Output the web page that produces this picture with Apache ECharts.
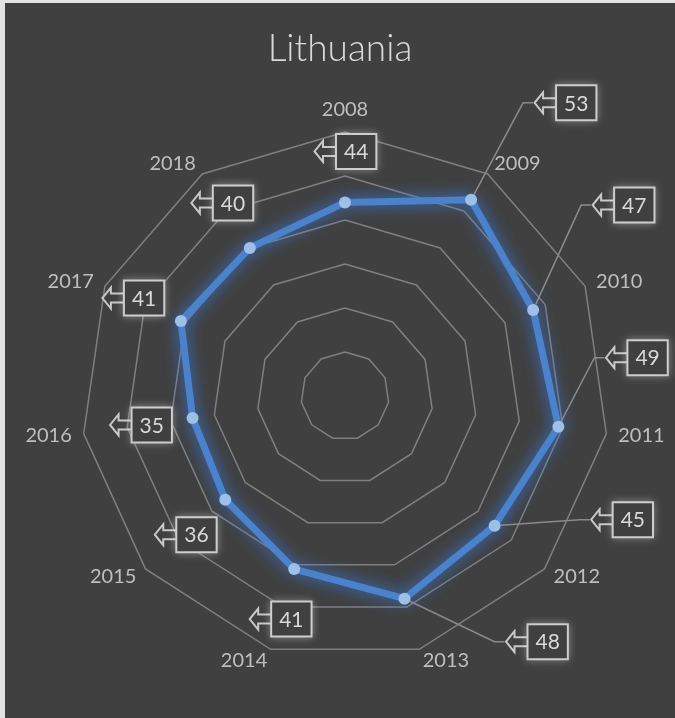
<!DOCTYPE html>
<html>
<head>
<meta charset="utf-8">
<script src="https://cdn.jsdelivr.net/npm/echarts@6/dist/echarts.min.js"></script>
<style>
  html, body { margin: 0; padding: 0; background: #e3e3e3; }
  #chart { position: absolute; left: 5px; top: 3px; width: 670px; height: 715px; background: #404040; }
</style>
</head>
<body>
<div id="chart"></div>
<script>
// years round the radar, clockwise from the top
const categories = ['2008', '2009', '2010', '2011', '2012', '2013', '2014', '2015', '2016', '2017', '2018'];
const values = [44, 53, 47, 49, 45, 48, 41, 36, 35, 41, 40];
const axisMax = 60;
const ringCount = 6;

// where each callout sits relative to its point (arrow tip), and which ones get a leader line
const labelOffsets = [[-32, -51], [62, -97], [58, -105], [46, -69], [95, -6], [100, 43], [-46, 50], [-72, 35], [-84, 7], [-80, -23], [-60, -45]];
const withLeader = [false, true, true, true, true, true, false, false, false, false, false];

const center = [340, 393];
const radius = 264;

// left-pointing outline arrow of the callout shape
const arrowImg = new Image();
arrowImg.src = 'data:image/svg+xml;utf8,' + encodeURIComponent(
  '<svg xmlns="http://www.w3.org/2000/svg" width="24" height="26" viewBox="0 0 24 26">' +
  '<path d="M24 8.5 H10 V2.5 L1.5 13 L10 23.5 V17.5 H24" fill="none" stroke="#c8c8c8" stroke-width="2" stroke-linejoin="miter"/>' +
  '</svg>');

// echarts radar runs counter-clockwise, so flip order after the first
const indicators = [categories[0]].concat(categories.slice(1).reverse()).map(name => ({ name, min: 0, max: axisMax }));

const lineData = values.map((v, i) => ({
  value: [v, i],
  labelLine: { show: withLeader[i] }
}));
// close the polygon back at the first year
lineData.push({ value: [values[0], categories.length], symbol: 'none', label: { show: false }, labelLine: { show: false } });

function draw() {
  const chart = echarts.init(document.getElementById('chart'));
  const option = {
    backgroundColor: '#404040',
    animation: false,
    title: {
      text: 'Lithuania',
      left: 'center',
      top: 23,
      textStyle: { color: '#d9d9d9', fontSize: 37, fontWeight: 300, fontFamily: 'Lato' }
    },
    radar: {
      center: center,
      radius: radius,
      startAngle: 90,
      splitNumber: ringCount,
      shape: 'polygon',
      indicator: indicators,
      nameGap: 12,
      axisName: { color: '#bfbfbf', fontSize: 20, fontFamily: 'Lato' },
      axisLine: { show: false },
      axisTick: { show: false },
      axisLabel: { show: false },
      splitArea: { show: false },
      splitLine: { lineStyle: { color: '#7f7f7f', width: 1.5 } }
    },
    polar: { center: center, radius: radius },
    angleAxis: { type: 'value', min: 0, max: categories.length, startAngle: 90, clockwise: true, show: false },
    radiusAxis: { type: 'value', min: 0, max: axisMax, show: false },
    series: [{
      type: 'line',
      coordinateSystem: 'polar',
      data: lineData,
      symbol: 'circle',
      symbolSize: 12,
      showAllSymbol: true,
      itemStyle: { color: '#9dbfe8', borderWidth: 0 },
      lineStyle: { color: '#4a82cc', width: 7, shadowBlur: 16, shadowColor: '#3a7ee6' },
      emphasis: { disabled: true },
      label: {
        show: true,
        position: 'inside',
        align: 'left',
        verticalAlign: 'middle',
        formatter: p => '{a| }{b|' + p.value[0] + '}',
        rich: {
          a: { width: 24, height: 26, backgroundColor: { image: arrowImg } },
          b: { fontFamily: 'Lato', fontSize: 21, color: '#d9d9d9', lineHeight: 22,
               padding: [7, 7, 5, 7], borderColor: '#c8c8c8', borderWidth: 2,
               backgroundColor: '#404040', shadowColor: 'rgba(255,255,255,0.3)', shadowBlur: 8 }
        }
      },
      labelLine: { show: true, length2: 10, lineStyle: { color: '#8a8a8a', width: 1.5 } },
      labelLayout: function (params) {
        const off = labelOffsets[params.dataIndex];
        if (!off) return {};
        const px = params.rect.x + params.rect.width / 2;
        const py = params.rect.y + params.rect.height / 2;
        return { x: px + off[0], y: py + off[1] };
      }
    }]
  };
  chart.setOption(option);
}

if (arrowImg.complete) draw();
else { arrowImg.onload = draw; arrowImg.onerror = draw; }
</script>
</body>
</html>
